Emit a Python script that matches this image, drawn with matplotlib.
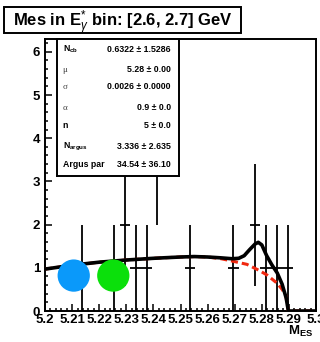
import matplotlib
matplotlib.use("Agg")
import matplotlib.pyplot as plt
from matplotlib.patches import Rectangle
from matplotlib.ticker import MultipleLocator, FuncFormatter

plt.rcParams['font.family'] = ['Liberation Sans', 'DejaVu Sans']
plt.rcParams['mathtext.fontset'] = 'custom'
plt.rcParams['mathtext.rm'] = 'Liberation Sans'
plt.rcParams['mathtext.bf'] = 'Liberation Sans:bold'
plt.rcParams['mathtext.it'] = 'Liberation Sans:italic'

W, H = 320, 342

# histogram: bin centre, entries, poisson error
mes_x = [5.2135, 5.2255, 5.2295, 5.2335, 5.2375, 5.2415,
         5.2535, 5.2695, 5.2775, 5.2815, 5.2855, 5.2895]
mes_n = [1, 1, 2, 1, 1, 4, 1, 1, 2, 1, 1, 1]
mes_err = [1.0, 1.0, 1.414, 1.0, 1.0, 2.0, 1.0, 1.0, 1.414, 1.0, 1.0, 1.0]
bin_half = 0.002

# total fit (crystal ball + argus)
fit_x = [5.200, 5.210, 5.220, 5.230, 5.240, 5.250, 5.255, 5.260, 5.265,
         5.269, 5.2715, 5.2735, 5.2755, 5.2775, 5.2787, 5.2800, 5.2818,
         5.2837, 5.2857, 5.2875, 5.2890, 5.2898, 5.300]
fit_y = [0.97, 1.06, 1.13, 1.18, 1.22, 1.25, 1.26, 1.25, 1.23,
         1.21, 1.22, 1.28, 1.42, 1.55, 1.59, 1.53, 1.28,
         1.07, 0.88, 0.62, 0.30, 0.00, 0.00]

# argus background component
bkg_x = [5.200, 5.210, 5.220, 5.230, 5.240, 5.250, 5.255, 5.260, 5.265,
         5.2695, 5.2745, 5.2790, 5.2820, 5.2857, 5.2875, 5.2888, 5.2898, 5.300]
bkg_y = [0.97, 1.06, 1.13, 1.18, 1.22, 1.25, 1.26, 1.25, 1.21,
         1.15, 1.08, 0.94, 0.83, 0.64, 0.50, 0.37, 0.00, 0.00]

# fit parameters
par_names = [r'$\mathbf{N}_{\mathbf{cb}}$', 'μ', 'σ', 'α', 'n',
             r'$\mathbf{N}_{\mathbf{argus}}$', 'Argus par']
par_values = ['0.6322 ± 1.5286', '5.28 ± 0.00', '0.0026 ± 0.0000', '0.9 ± 0.0',
              '5 ± 0.0', '3.336 ± 2.635', '34.54 ± 36.10']
par_rows = [49, 70, 86.5, 108, 126, 146.5, 165]

# coloured markers
dot_x = [5.2106, 5.2252]
dot_y = [0.82, 0.82]
dot_colors = ['#0a99fa', '#0be00b']


def fx(px):
    return px / W


def fy(py):
    return 1 - py / H


fig = plt.figure(figsize=(W / 100, H / 100), dpi=100)
ax = fig.add_axes([fx(45), fy(311), (316 - 45) / W, (311 - 39) / H])

ax.errorbar(mes_x, mes_n, yerr=mes_err, xerr=bin_half, fmt='none',
            ecolor='black', elinewidth=1.3, capsize=0, zorder=2)
ax.plot(bkg_x, bkg_y, color='#f02810', lw=2.2, dashes=(2.3, 1.3), zorder=3)
ax.plot(fit_x, fit_y, color='black', lw=2.6, zorder=4)
ax.scatter(dot_x, dot_y, s=540, c=dot_colors, edgecolors='none', zorder=5)

ax.set_xlim(5.2, 5.3)
ax.set_ylim(0, 272 / 43.2)
ax.xaxis.set_major_locator(MultipleLocator(0.01))
ax.xaxis.set_minor_locator(MultipleLocator(0.002))
ax.yaxis.set_major_locator(MultipleLocator(1))
ax.yaxis.set_minor_locator(MultipleLocator(0.2))
ax.xaxis.set_major_formatter(FuncFormatter(lambda v, p: f"{v:g}"))
ax.yaxis.set_major_formatter(FuncFormatter(lambda v, p: f"{v:g}"))
ax.tick_params(which='both', direction='in', top=False, right=False, width=1.1)
ax.tick_params(which='major', length=5)
ax.tick_params(which='minor', length=2.5)
ax.tick_params(axis='x', pad=2, labelsize=9.5)
ax.tick_params(axis='y', pad=3.5, labelsize=9.5)
for lab in ax.get_xticklabels() + ax.get_yticklabels():
    lab.set_fontweight('bold')
for sp in ax.spines.values():
    sp.set_linewidth(1.4)

fig.text(fx(313), fy(335), r'$\mathbf{M}_{\mathbf{ES}}$', ha='right', va='baseline',
         fontsize=9.5)

# parameter box
box = fig.add_axes([fx(56.7), fy(176), (179 - 56.7) / W, (176 - 39.3) / H], zorder=10)
box.set_xticks([])
box.set_yticks([])
for sp in box.spines.values():
    sp.set_linewidth(1.4)
for name, val, row in zip(par_names, par_values, par_rows):
    if name in ('μ', 'σ', 'α'):
        fig.text(fx(62.7), fy(row), name, ha='left', va='center', fontsize=6.5,
                 family='Liberation Serif', color='#444444', zorder=11)
    else:
        fig.text(fx(62.7), fy(row), name, ha='left', va='center', fontsize=6.3,
                 fontweight='bold', zorder=11)
    fig.text(fx(170.7), fy(row), val, ha='right', va='center', fontsize=6.3,
             fontweight='bold', zorder=11)

# title box
fig.patches.append(Rectangle((fx(4), fy(33.3)), (240.7 - 4) / W, (33.3 - 6.7) / H,
                             transform=fig.transFigure, facecolor='white',
                             edgecolor='black', lw=1.4, zorder=12))
fig.text(fx(13), fy(26.7), r'Mes in E$_{\gamma}^{*}$ bin: [2.6, 2.7] GeV',
         ha='left', va='baseline', fontsize=12.0, fontweight='bold', zorder=13)

fig.savefig('out.png', dpi=100)
